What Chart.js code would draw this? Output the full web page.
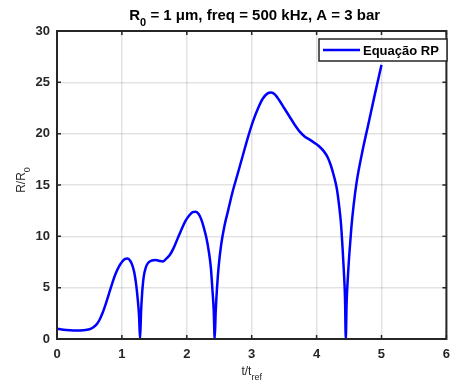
<!DOCTYPE html>
<html>
<head>
<meta charset="utf-8">
<script src="https://cdn.jsdelivr.net/npm/chart.js@4.4.0/dist/chart.umd.min.js"></script>
<style>
  body { margin: 0; background: #fff; }
  canvas { display: block; }
</style>
</head>
<body>
<canvas id="myChart" width="458" height="388"></canvas>
<script>
// values
const tValues = [0, 0.1, 0.2, 0.3, 0.4, 0.5, 0.55, 0.6, 0.65, 0.7, 0.75, 0.8, 0.85, 0.9, 0.95, 1.0, 1.05, 1.09, 1.13, 1.16, 1.19, 1.22, 1.245, 1.265, 1.28, 1.295, 1.31, 1.335, 1.37, 1.41, 1.46, 1.52, 1.58, 1.63, 1.68, 1.74, 1.8, 1.86, 1.92, 1.98, 2.04, 2.09, 2.14, 2.18, 2.22, 2.26, 2.3, 2.34, 2.37, 2.395, 2.415, 2.43, 2.445, 2.465, 2.49, 2.53, 2.58, 2.64, 2.7, 2.78, 2.86, 2.94, 3.02, 3.1, 3.17, 3.24, 3.3, 3.36, 3.43, 3.5, 3.58, 3.66, 3.74, 3.82, 3.9, 3.98, 4.05, 4.11, 4.17, 4.22, 4.27, 4.31, 4.345, 4.375, 4.4, 4.42, 4.438, 4.45, 4.462, 4.48, 4.505, 4.535, 4.57, 4.62, 4.7, 4.8, 4.9, 5.0];
const rValues = [1.0, 0.9, 0.85, 0.83, 0.85, 0.95, 1.1, 1.35, 1.8, 2.5, 3.4, 4.4, 5.4, 6.3, 7.0, 7.5, 7.8, 7.85, 7.6, 7.2, 6.5, 5.3, 3.8, 2.2, 0, 2.6, 4.3, 6.0, 7.0, 7.45, 7.65, 7.7, 7.6, 7.55, 7.8, 8.2, 8.9, 9.8, 10.7, 11.5, 12.05, 12.35, 12.4, 12.2, 11.7, 10.9, 9.9, 8.5, 7.0, 4.8, 2.8, 0, 2.6, 4.9, 7.0, 9.2, 11.0, 12.6, 14.2, 16.0, 17.8, 19.6, 21.2, 22.5, 23.4, 23.9, 24.0, 23.8, 23.2, 22.5, 21.7, 20.9, 20.2, 19.7, 19.4, 19.05, 18.7, 18.3, 17.7, 16.9, 15.8, 14.7, 13.1, 11.3, 8.9, 6.6, 4.0, 0, 3.4, 5.8, 8.3, 10.8, 13.0, 15.4, 18.1, 21.0, 23.9, 26.7];
const xTicks = [0, 1, 2, 3, 4, 5, 6];
const yTicks = [0, 5, 10, 15, 20, 25, 30];
const seriesName = 'Equação RP';

const FONT = "'Liberation Sans', Arial, Helvetica, sans-serif";
const INK = '#262626';

// draws text with subscript parts, e.g. [['R', false], ['0', true]]
function textWidth(ctx, parts, size, weight) {
    let w = 0;
    parts.forEach(([txt, sub]) => {
        ctx.font = weight + ' ' + (sub ? Math.round(size * 0.75) : size) + 'px ' + FONT;
        w += ctx.measureText(txt).width;
    });
    return w;
}
function drawParts(ctx, parts, x, y, size, weight) {
    parts.forEach(([txt, sub]) => {
        ctx.font = weight + ' ' + (sub ? Math.round(size * 0.75) : size) + 'px ' + FONT;
        ctx.fillText(txt, x, sub ? y + size * 0.38 : y);
        x += ctx.measureText(txt).width;
    });
}

const decorPlugin = {
    id: 'decor',
    afterDatasetsDraw(chart) {
        const ctx = chart.ctx;
        const a = chart.chartArea;
        const xs = chart.scales.x, ys = chart.scales.y;
        ctx.save();
        ctx.strokeStyle = INK;
        ctx.lineWidth = 1.5;
        // inward ticks on all four sides
        ctx.beginPath();
        xTicks.forEach(v => {
            const px = xs.getPixelForValue(v);
            ctx.moveTo(px, a.bottom); ctx.lineTo(px, a.bottom - 4);
            ctx.moveTo(px, a.top); ctx.lineTo(px, a.top + 4);
        });
        yTicks.forEach(v => {
            const py = ys.getPixelForValue(v);
            ctx.moveTo(a.left, py); ctx.lineTo(a.left + 4, py);
            ctx.moveTo(a.right, py); ctx.lineTo(a.right - 4, py);
        });
        ctx.stroke();
        // box
        ctx.lineWidth = 2;
        ctx.strokeRect(a.left, a.top, a.right - a.left, a.bottom - a.top);

        // legend
        const lx = 319, ly = 39, lw = 128, lh = 22;
        ctx.fillStyle = '#fff';
        ctx.fillRect(lx, ly, lw, lh);
        ctx.lineWidth = 1.5;
        ctx.strokeStyle = INK;
        ctx.strokeRect(lx, ly, lw, lh);
        ctx.strokeStyle = '#0000ff';
        ctx.lineWidth = 2.5;
        ctx.beginPath();
        ctx.moveTo(lx + 4, ly + lh / 2);
        ctx.lineTo(lx + 41, ly + lh / 2);
        ctx.stroke();
        ctx.fillStyle = '#000';
        ctx.font = 'bold 13px ' + FONT;
        ctx.textBaseline = 'middle';
        ctx.textAlign = 'left';
        ctx.fillText(seriesName, lx + 44, ly + lh / 2 + 1);

        // title
        ctx.textBaseline = 'alphabetic';
        ctx.fillStyle = '#000';
        const title = [['R', false], ['0', true], [' = 1 μm, freq = 500 kHz, A = 3 bar', false]];
        const tw = textWidth(ctx, title, 15, 'bold');
        drawParts(ctx, title, (a.left + a.right) / 2 - tw / 2 + 3, 20, 15, 'bold');

        // x axis label
        ctx.fillStyle = INK;
        const xl = [['t/t', false], ['ref', true]];
        const xw = textWidth(ctx, xl, 12, 'normal');
        drawParts(ctx, xl, (a.left + a.right) / 2 - xw / 2, 375, 12, 'normal');

        // y axis label (rotated)
        const yl = [['R/R', false], ['0', true]];
        const yw = textWidth(ctx, yl, 12, 'normal');
        ctx.translate(25, (a.top + a.bottom) / 2 - 5);
        ctx.rotate(-Math.PI / 2);
        drawParts(ctx, yl, -yw / 2, 0, 12, 'normal');
        ctx.restore();
    }
};

const ctx = document.getElementById('myChart').getContext('2d');
new Chart(ctx, {
    type: 'line',
    data: {
        datasets: [
            {
                label: seriesName,
                data: tValues.map((t, i) => ({ x: t, y: rValues[i] })),
                borderColor: '#0000ff',
                borderWidth: 2.5,
                pointRadius: 0,
                fill: false,
                cubicInterpolationMode: 'monotone'
            },
        ],
    },
    options: {
        responsive: false,
        animation: false,
        layout: { padding: { top: 31, right: 5, left: 0, bottom: 0 } },
        plugins: {
            legend: { display: false },
            tooltip: { enabled: false },
        },
        scales: {
            x: {
                type: 'linear',
                min: 0,
                max: 6,
                afterFit: (s) => { s.height = 49; },
                afterBuildTicks: (s) => { s.ticks = xTicks.map(v => ({ value: v })); },
                grid: { color: 'rgba(0,0,0,0.11)', lineWidth: 1.5, drawTicks: false },
                border: { display: false },
                ticks: { padding: 8, color: INK, font: { family: FONT, size: 13, weight: 'bold' } },
            },
            y: {
                min: 0,
                max: 30,
                afterFit: (s) => { s.width = 57; },
                afterBuildTicks: (s) => { s.ticks = yTicks.map(v => ({ value: v })); },
                grid: { color: 'rgba(0,0,0,0.11)', lineWidth: 1.5, drawTicks: false },
                border: { display: false },
                ticks: { padding: 7, color: INK, font: { family: FONT, size: 13, weight: 'bold' } },
            },
        },
    },
    plugins: [decorPlugin],
});
</script>
</body>
</html>
